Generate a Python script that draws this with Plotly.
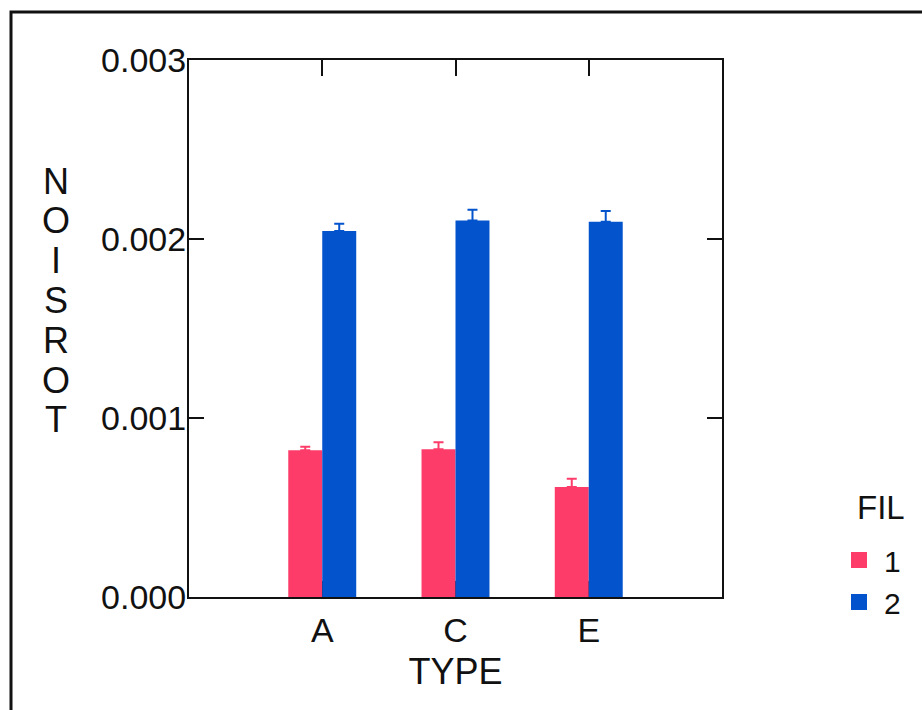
import plotly.graph_objects as go

# ---- data ----
categories = ["A", "C", "E"]
fil_names = ["1", "2"]
fil1_values = [0.00082, 0.000825, 0.000615]
fil1_err = [0.00002, 0.00004, 0.000045]
fil2_values = [0.002045, 0.002104, 0.002097]
fil2_err = [0.00004, 0.00006, 0.00006]
y_ticks = [0.0, 0.001, 0.002, 0.003]
y_ticktext = ["0.000", "0.001", "0.002", "0.003"]
y_title = "NOISROT"
x_title = "TYPE"
legend_title = "FIL"

RED = "#fd3c6a"
BLUE = "#0353cc"
FONT = "Liberation Sans, Arial, sans-serif"

W, H = 922, 710
L, R, T, B = 189, 722, 60, 597  # plot area in px


def px_x(x):
    return (x - L) / (R - L)


def px_y(y):
    return (B - y) / (B - T)


fig = go.Figure()
for name, vals, errs, col in [
    (fil_names[0], fil1_values, fil1_err, RED),
    (fil_names[1], fil2_values, fil2_err, BLUE),
]:
    fig.add_trace(go.Bar(
        x=categories, y=vals, name=name, marker_color=col,
        marker_line_width=0, showlegend=False, legendgroup=name,
        error_y=dict(type="data", array=errs, arrayminus=[0] * len(errs),
                     symmetric=False, color=col, thickness=2, width=5),
    ))
    # legend swatch
    fig.add_trace(go.Scatter(
        x=[None], y=[None], mode="markers", name=name, legendgroup=name,
        marker=dict(symbol="square", size=18, color=col),
    ))

fig.update_layout(
    width=W, height=H,
    margin=dict(l=L, r=W - R, t=T, b=H - B),
    paper_bgcolor="white", plot_bgcolor="white",
    barmode="group", bargap=0.49, bargroupgap=0,
    font=dict(family=FONT, color="#111111", size=34),
    showlegend=True,
    legend=dict(
        font=dict(size=30), x=px_x(834), xanchor="left",
        y=px_y(534), yanchor="top", itemsizing="trace", itemwidth=40,
        bgcolor="rgba(0,0,0,0)", tracegroupgap=0,
    ),
    xaxis=dict(
        range=[-1, 3], showgrid=False, zeroline=False,
        showline=True, linecolor="#111111", linewidth=2, mirror="ticks",
        ticks="inside", ticklen=16, tickwidth=2, tickcolor="#111111",
        layer="below traces",
        title=dict(text=x_title, font=dict(size=36), standoff=11),
        tickfont=dict(size=34), ticklabelstandoff=2,
    ),
    yaxis=dict(
        range=[0, 0.003], tickvals=y_ticks, ticktext=y_ticktext,
        showgrid=False, zeroline=False,
        showline=True, linecolor="#111111", linewidth=2, mirror="ticks",
        ticks="inside", ticklen=15, tickwidth=2, tickcolor="#111111",
        tickfont=dict(size=34), ticklabelstandoff=-6,
    ),
)

# stacked y-axis title letters
for i, ch in enumerate(y_title):
    fig.add_annotation(
        text=ch, xref="paper", yref="paper", x=px_x(56), y=px_y(181 + 39.8 * i),
        xanchor="center", yanchor="middle", showarrow=False,
        font=dict(size=36, family=FONT, color="#111111"),
    )

# legend title
fig.add_annotation(
    text=legend_title, xref="paper", yref="paper", x=px_x(881), y=px_y(507),
    xanchor="center", yanchor="middle", showarrow=False,
    font=dict(size=33, family=FONT, color="#111111"),
)

# outer frame
fig.add_shape(type="rect", xref="paper", yref="paper",
              x0=px_x(11), x1=px_x(940), y0=px_y(12), y1=px_y(730),
              line=dict(color="#111111", width=3))

fig.write_html("out.html")
